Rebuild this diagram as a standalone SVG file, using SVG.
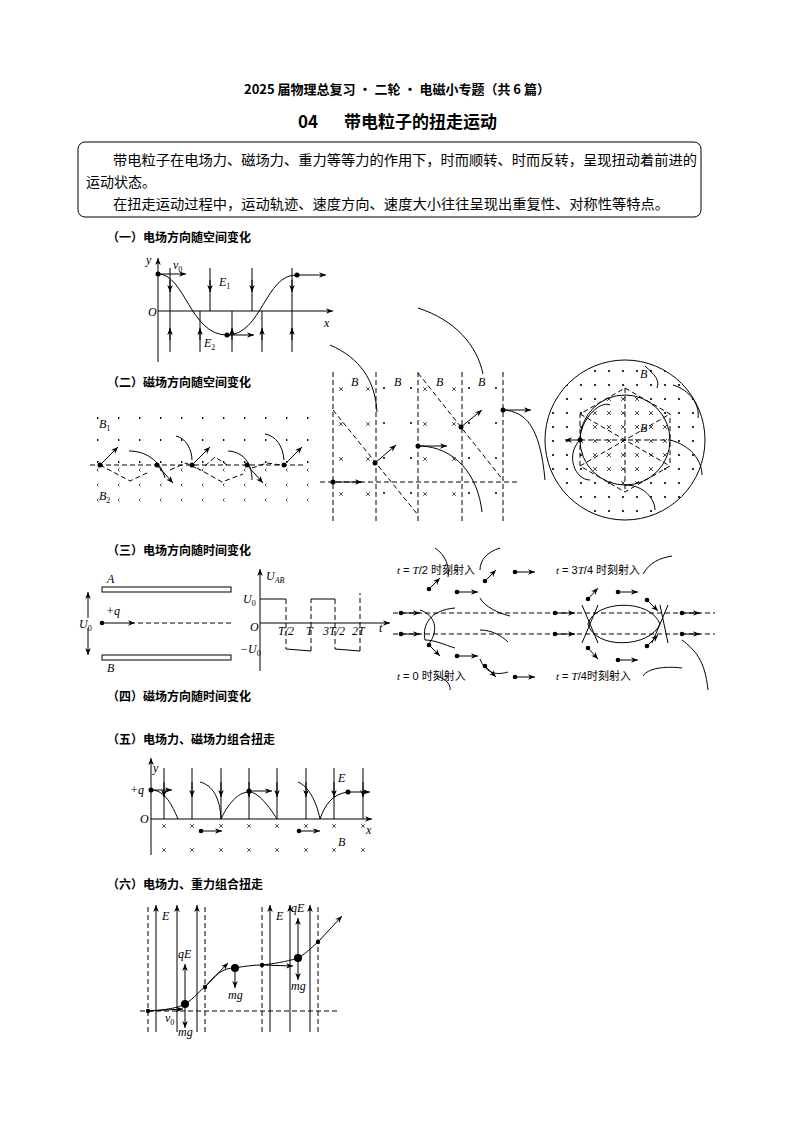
<svg xmlns="http://www.w3.org/2000/svg" xmlns:xlink="http://www.w3.org/1999/xlink" width="794" height="1123" viewBox="0 0 794 1123">
<style>
.t{font-family:"Liberation Sans","Noto Sans CJK SC",sans-serif;fill:#000}
.h{font-family:"Noto Sans CJK SC",sans-serif;font-weight:bold;fill:#000}
.m{font-family:"Liberation Serif",serif;font-style:italic;fill:#000;font-size:12px}
.l{stroke:#000;stroke-width:1;fill:none}
.d{stroke:#000;stroke-width:1;fill:none;stroke-dasharray:5,3}
.a{stroke:#000;stroke-width:1;fill:none;marker-end:url(#ar)}
</style>
<defs>
<marker id="ar" viewBox="0 0 10 10" refX="10" refY="5" markerWidth="7" markerHeight="7" orient="auto"><path d="M0,1 L10,5 L0,9 L3,5 z" fill="#000"/></marker>
<path id="cx" d="M-1.8,-1.8 L1.8,1.8 M1.8,-1.8 L-1.8,1.8" stroke="#000" stroke-width="0.7"/>
<pattern id="dots" width="14" height="14" patternUnits="userSpaceOnUse"><circle cx="7" cy="7" r="1.1" fill="#000"/></pattern>
<pattern id="crs" width="14" height="14" patternUnits="userSpaceOnUse"><path d="M5,5 L9,9 M9,5 L5,9" stroke="#000" stroke-width="0.7"/></pattern>
<pattern id="dots2" width="21" height="22" patternUnits="userSpaceOnUse" x="97" y="407"><circle cx="0.5" cy="11" r="1.1" fill="#000"/></pattern>
<pattern id="crs2" width="21" height="15" patternUnits="userSpaceOnUse" x="97" y="463"><path d="M-1.5,5.5 L1.5,8.5 M1.5,5.5 L-1.5,8.5" stroke="#000" stroke-width="0.7"/></pattern>
<clipPath id="outer"><circle cx="625" cy="440" r="80"/></clipPath>
<clipPath id="inner"><circle cx="625" cy="440" r="45"/></clipPath>
</defs>

<g id="header">
<text class="h" x="397" y="94" font-size="13" text-anchor="middle">2025 届物理总复习 · 二轮 · 电磁小专题（共 6 篇）</text>
<text class="h" x="318" y="128" font-size="17" text-anchor="end">04</text>
<text class="h" x="344" y="128" font-size="17">带电粒子的扭走运动</text>
<rect x="78" y="142" width="623" height="75" rx="7" class="l"/>
<text class="t" font-size="14" x="113" y="165" textLength="584" lengthAdjust="spacingAndGlyphs">带电粒子在电场力、磁场力、重力等等力的作用下，时而顺转、时而反转，呈现扭动着前进的</text>
<text class="t" font-size="14" x="86" y="187">运动状态。</text>
<text class="t" font-size="14" x="113" y="209" textLength="556" lengthAdjust="spacingAndGlyphs">在扭走运动过程中，运动轨迹、速度方向、速度大小往往呈现出重复性、对称性等特点。</text>
</g>

<g id="titles" class="h" font-size="12">
<text x="107" y="242">（一）电场方向随空间变化</text>
<text x="107" y="387">（二）磁场方向随空间变化</text>
<text x="107" y="555">（三）电场方向随时间变化</text>
<text x="107" y="701">（四）磁场方向随时间变化</text>
<text x="107" y="744">（五）电场力、磁场力组合扭走</text>
<text x="107" y="889">（六）电场力、重力组合扭走</text>
</g>

<g id="fig1">
<line x1="158" y1="362" x2="158" y2="258" class="a"/>
<line x1="158" y1="311" x2="333" y2="311" class="a"/>
<g class="l">
<line x1="170" y1="268" x2="170" y2="352"/><line x1="292" y1="268" x2="292" y2="352"/>
<line x1="210" y1="268" x2="210" y2="311"/><line x1="252" y1="268" x2="252" y2="311"/>
<line x1="200" y1="311" x2="200" y2="352"/><line x1="232" y1="311" x2="232" y2="352"/><line x1="262" y1="311" x2="262" y2="352"/>
</g>
<g class="a">
<line x1="170" y1="280" x2="170" y2="292"/><line x1="210" y1="280" x2="210" y2="292"/><line x1="252" y1="280" x2="252" y2="292"/><line x1="292" y1="280" x2="292" y2="292"/>
<line x1="170" y1="340" x2="170" y2="328"/><line x1="200" y1="340" x2="200" y2="328"/><line x1="232" y1="340" x2="232" y2="328"/><line x1="262" y1="340" x2="262" y2="328"/><line x1="292" y1="340" x2="292" y2="328"/>
</g>
<path d="M158,274 C185,274 190,335 227,335 C262,335 265,274 297,275" class="l"/>
<circle cx="158" cy="274" r="2.5"/><circle cx="227" cy="335" r="2.5"/><circle cx="297" cy="275" r="2.5"/>
<line x1="158" y1="274" x2="186" y2="274" class="a"/>
<line x1="227" y1="335" x2="254" y2="335" class="a"/>
<line x1="297" y1="275" x2="326" y2="275" class="a"/>
<text class="m" x="146" y="264">y</text><text class="m" x="173" y="269">v<tspan font-size="8" dy="3" font-style="normal">0</tspan></text>
<text class="m" x="219" y="286">E<tspan font-size="8" dy="3" font-style="normal">1</tspan></text>
<text class="m" x="204" y="347">E<tspan font-size="8" dy="3" font-style="normal">2</tspan></text>
<text class="m" x="148" y="316">O</text><text class="m" x="324" y="327">x</text>
</g>

<g id="fig2a">
<rect x="90" y="407" width="226" height="56" fill="url(#dots2)"/>
<rect x="90" y="463" width="226" height="42" fill="url(#crs2)"/>
<line x1="90" y1="465" x2="305" y2="465" class="d"/>
<path d="M100,465 L130,481 L149,472 M170,470 L186,463 L200,470 M205,466 L215,457 L227,465 M197,468 L222,482 L243,474 M252,468 L267,463 L281,465" class="d" stroke-width="0.8"/>
<path d="M129,451 C145,451 160,460 165,478 M176,436 C186,438 192,450 192,460 M228,451 C245,452 252,465 252,480 M265,434 C276,436 283,446 284,460" class="l"/>
<circle cx="100" cy="465" r="2.5"/><circle cx="157" cy="465" r="2.5"/><circle cx="192" cy="465" r="2.5"/><circle cx="247" cy="465" r="2.5"/><circle cx="284" cy="465" r="2.5"/>
<line x1="100" y1="465" x2="118" y2="447" class="a"/><line x1="157" y1="465" x2="173" y2="483" class="a"/><line x1="192" y1="465" x2="210" y2="447" class="a"/><line x1="247" y1="465" x2="263" y2="483" class="a"/><line x1="284" y1="465" x2="302" y2="447" class="a"/>
<text class="m" x="99" y="428">B<tspan font-size="8" dy="3" font-style="normal">1</tspan></text>
<text class="m" x="99" y="500">B<tspan font-size="8" dy="3" font-style="normal">2</tspan></text>
</g>

<g id="fig2b">
<g class="d"><line x1="333" y1="372" x2="333" y2="522"/><line x1="376" y1="372" x2="376" y2="522"/><line x1="418" y1="372" x2="418" y2="522"/><line x1="462" y1="372" x2="462" y2="522"/><line x1="503" y1="372" x2="503" y2="522"/>
<line x1="320" y1="482" x2="520" y2="482"/><line x1="333" y1="410" x2="418" y2="515"/><line x1="418" y1="373" x2="503" y2="480"/></g>
<use xlink:href="#cx" x="341" y="389"/><use xlink:href="#cx" x="368" y="389"/><use xlink:href="#cx" x="341" y="424"/><use xlink:href="#cx" x="368" y="424"/><use xlink:href="#cx" x="341" y="459"/><use xlink:href="#cx" x="368" y="459"/><use xlink:href="#cx" x="341" y="494"/><use xlink:href="#cx" x="368" y="494"/>
<use xlink:href="#cx" x="425" y="389"/><use xlink:href="#cx" x="454" y="389"/><use xlink:href="#cx" x="425" y="424"/><use xlink:href="#cx" x="454" y="424"/><use xlink:href="#cx" x="425" y="459"/><use xlink:href="#cx" x="454" y="459"/><use xlink:href="#cx" x="425" y="494"/><use xlink:href="#cx" x="454" y="494"/>
<g fill="#000"><circle cx="384" cy="388" r="1"/><circle cx="411" cy="388" r="1"/><circle cx="384" cy="423" r="1"/><circle cx="411" cy="423" r="1"/><circle cx="384" cy="458" r="1"/><circle cx="411" cy="458" r="1"/><circle cx="384" cy="493" r="1"/><circle cx="411" cy="493" r="1"/>
<circle cx="469" cy="388" r="1"/><circle cx="496" cy="388" r="1"/><circle cx="469" cy="423" r="1"/><circle cx="496" cy="423" r="1"/><circle cx="469" cy="458" r="1"/><circle cx="496" cy="458" r="1"/><circle cx="469" cy="493" r="1"/><circle cx="496" cy="493" r="1"/></g>
<path d="M330,345 C360,358 375,380 377,412 M418,308 C455,320 477,345 483,374 M420,446 C455,447 478,475 482,512 M504,410 C525,412 540,425 545,480" class="l"/>
<circle cx="333" cy="482" r="2.5"/><circle cx="375" cy="463" r="2.5"/><circle cx="418" cy="446" r="2.5"/><circle cx="461" cy="427" r="2.5"/><circle cx="503" cy="410" r="2.5"/>
<line x1="333" y1="482" x2="362" y2="482" class="a"/><line x1="375" y1="463" x2="396" y2="445" class="a"/><line x1="418" y1="446" x2="447" y2="446" class="a"/><line x1="461" y1="427" x2="482" y2="410" class="a"/><line x1="503" y1="410" x2="531" y2="410" class="a"/>
<text class="m" x="351" y="386">B</text><text class="m" x="394" y="386">B</text><text class="m" x="436" y="386">B</text><text class="m" x="478" y="386">B</text>
</g>

<g id="fig2c">
<g clip-path="url(#outer)"><rect x="545" y="360" width="160" height="160" fill="url(#dots)"/></g>
<circle cx="625" cy="440" r="45" fill="#fff"/>
<g clip-path="url(#inner)"><rect x="580" y="395" width="90" height="90" fill="url(#crs)"/></g>
<circle cx="625" cy="440" r="80" class="l"/><circle cx="625" cy="440" r="45" class="l"/>
<path d="M625,388 L670,414 L670,466 L625,492 L580,466 L580,414 Z" class="d" stroke-width="0.8"/>
<path d="M580,440 L670,440 M625,388 L625,492 M580,414 L670,466 M580,466 L670,414" class="d" stroke-width="0.8"/>
<path d="M580,440 C565,455 575,480 590,480 M580,440 C580,420 600,400 610,405 M670,440 C690,445 702,460 702,475 M625,485 C645,485 655,500 655,510 M645,366 C655,375 660,380 657,388 M673,385 C690,390 700,405 698,418" class="l"/>
<circle cx="580" cy="440" r="2.5"/>
<line x1="580" y1="440" x2="565" y2="440" class="a"/>
<text class="m" x="640" y="378">B</text><text class="m" x="640" y="432">B</text>
</g>

<g id="fig3">
<rect x="102" y="587" width="129" height="5" class="l"/><rect x="102" y="655" width="129" height="5" class="l"/>
<line x1="88" y1="618" x2="88" y2="592" class="a"/><line x1="88" y1="628" x2="88" y2="655" class="a"/>
<circle cx="102" cy="623" r="2.3"/><line x1="102" y1="623" x2="135" y2="623" class="a"/>
<line x1="138" y1="623" x2="231" y2="623" class="d"/>
<text class="m" x="107" y="583">A</text><text class="m" x="107" y="672">B</text><text class="m" x="106" y="615" font-style="normal">+<tspan font-style="italic">q</tspan></text>
<text class="m" x="79" y="628">U<tspan font-size="8" dy="3" font-style="normal">0</tspan></text>
<line x1="260" y1="671" x2="260" y2="569" class="a"/><line x1="260" y1="623" x2="390" y2="623" class="a"/>
<path d="M260,599 L286,599 M286,649 L311,651 M311,599 L335,599 M335,649 L360,651" class="l"/>
<path d="M286,599 L286,649 M311,651 L311,599 M335,599 L335,649 M360,651 L360,593" class="d"/>
<text class="m" x="266" y="580">U<tspan font-size="8" dy="3">AB</tspan></text>
<text class="m" x="243" y="603">U<tspan font-size="8" dy="3" font-style="normal">0</tspan></text>
<text class="m" x="240" y="653">−U<tspan font-size="8" dy="3" font-style="normal">0</tspan></text>
<text class="m" x="250" y="631">O</text>
<text class="m" x="278" y="635" font-size="11">T/2</text><text class="m" x="306" y="635" font-size="11">T</text><text class="m" x="323" y="635" font-size="11">3T/2</text><text class="m" x="352" y="635" font-size="11">2T</text><text class="m" x="379" y="632">t</text>
</g>

<g id="fig3b">
<line x1="393" y1="613" x2="715" y2="613" class="d"/><line x1="393" y1="634" x2="715" y2="634" class="d"/>
<text class="t" x="397" y="574" font-size="11"><tspan font-family="Liberation Serif" font-style="italic">t</tspan> = <tspan font-family="Liberation Serif" font-style="italic">T</tspan>/2 时刻射入</text>
<text class="t" x="556" y="574" font-size="11"><tspan font-family="Liberation Serif" font-style="italic">t</tspan> = 3<tspan font-family="Liberation Serif" font-style="italic">T</tspan>/4 时刻射入</text>
<text class="t" x="397" y="680" font-size="11"><tspan font-family="Liberation Serif" font-style="italic">t</tspan> = 0 时刻射入</text>
<text class="t" x="556" y="680" font-size="11"><tspan font-family="Liberation Serif" font-style="italic">t</tspan> = <tspan font-family="Liberation Serif" font-style="italic">T</tspan>/4时刻射入</text>
<g fill="#000"><circle cx="401" cy="613" r="2.3"/><circle cx="401" cy="634" r="2.3"/><circle cx="429" cy="589" r="2.3"/><circle cx="457" cy="592" r="2.3"/><circle cx="485" cy="581" r="2.3"/><circle cx="515" cy="572" r="2.3"/>
<circle cx="429" cy="645" r="2.3"/><circle cx="457" cy="656" r="2.3"/><circle cx="485" cy="666" r="2.3"/><circle cx="515" cy="677" r="2.3"/>
<circle cx="555" cy="613" r="2.3"/><circle cx="555" cy="634" r="2.3"/><circle cx="588" cy="599" r="2.3"/><circle cx="618" cy="592" r="2.3"/><circle cx="647" cy="600" r="2.3"/><circle cx="682" cy="613" r="2.3"/><circle cx="682" cy="634" r="2.3"/>
<circle cx="588" cy="648" r="2.3"/><circle cx="618" cy="660" r="2.3"/><circle cx="647" cy="646" r="2.3"/></g>
<g class="a"><line x1="401" y1="613" x2="420" y2="613"/><line x1="401" y1="634" x2="420" y2="634"/><line x1="429" y1="589" x2="440" y2="578"/><line x1="457" y1="592" x2="478" y2="592"/><line x1="485" y1="581" x2="496" y2="570"/><line x1="515" y1="572" x2="535" y2="572"/>
<line x1="429" y1="645" x2="440" y2="656"/><line x1="457" y1="656" x2="478" y2="656"/><line x1="485" y1="666" x2="496" y2="677"/><line x1="515" y1="677" x2="535" y2="677"/>
<line x1="555" y1="613" x2="575" y2="613"/><line x1="555" y1="634" x2="575" y2="634"/><line x1="588" y1="599" x2="598" y2="588"/><line x1="618" y1="592" x2="638" y2="592"/><line x1="647" y1="600" x2="658" y2="611"/><line x1="682" y1="613" x2="700" y2="613"/><line x1="682" y1="634" x2="700" y2="634"/>
<line x1="588" y1="648" x2="598" y2="659"/><line x1="618" y1="660" x2="638" y2="660"/><line x1="647" y1="646" x2="658" y2="635"/></g>
<path d="M455,608 C430,610 422,625 425,640 C435,640 445,645 455,648 M420,610 C435,615 440,630 428,645 M435,548 C446,555 450,568 448,577 M480,570 C480,560 487,552 500,548 M480,598 C485,607 498,613 510,616 M480,630 C492,630 502,636 508,642 M480,659 C485,672 495,676 508,672 M437,676 C448,680 451,686 450,690" class="l"/>
<path d="M588,624 C595,600 650,598 660,624 C650,648 595,650 588,624 Z M582,605 L598,643 M598,605 L582,643 M660,605 L668,643 M668,605 L652,643" class="l"/>
<path d="M643,574 C650,562 660,558 672,556 M643,676 C648,668 665,666 682,668 M682,640 C695,650 705,660 708,690" class="l"/>
</g>

<g id="fig5">
<line x1="151" y1="855" x2="151" y2="758" class="a"/><line x1="151" y1="819" x2="372" y2="819" class="a"/>
<g class="l"><line x1="164" y1="768" x2="164" y2="819"/><line x1="192" y1="768" x2="192" y2="819"/><line x1="221" y1="768" x2="221" y2="819"/><line x1="249" y1="768" x2="249" y2="819"/><line x1="277" y1="768" x2="277" y2="819"/><line x1="306" y1="768" x2="306" y2="819"/><line x1="334" y1="768" x2="334" y2="819"/><line x1="363" y1="768" x2="363" y2="819"/></g>
<g class="a"><line x1="164" y1="782" x2="164" y2="797"/><line x1="192" y1="782" x2="192" y2="797"/><line x1="221" y1="782" x2="221" y2="797"/><line x1="249" y1="782" x2="249" y2="797"/><line x1="277" y1="782" x2="277" y2="797"/><line x1="306" y1="782" x2="306" y2="797"/><line x1="334" y1="782" x2="334" y2="797"/><line x1="363" y1="782" x2="363" y2="797"/></g>
<use xlink:href="#cx" x="164" y="826"/><use xlink:href="#cx" x="192" y="826"/><use xlink:href="#cx" x="221" y="826"/><use xlink:href="#cx" x="249" y="826"/><use xlink:href="#cx" x="277" y="826"/><use xlink:href="#cx" x="306" y="826"/><use xlink:href="#cx" x="334" y="826"/><use xlink:href="#cx" x="363" y="826"/>
<use xlink:href="#cx" x="164" y="850"/><use xlink:href="#cx" x="192" y="850"/><use xlink:href="#cx" x="221" y="850"/><use xlink:href="#cx" x="249" y="850"/><use xlink:href="#cx" x="277" y="850"/><use xlink:href="#cx" x="306" y="850"/><use xlink:href="#cx" x="334" y="850"/><use xlink:href="#cx" x="363" y="850"/>
<path d="M151,790 C165,790 172,805 178,819 M221,819 C230,800 240,792 249,792 C258,792 268,805 277,819 M320,819 C325,805 332,794 348,792 M200,782 C212,785 220,797 221,819 M298,782 C308,786 316,800 320,819" class="l"/>
<circle cx="151" cy="790" r="2.5"/><circle cx="249" cy="791" r="2.5"/><circle cx="348" cy="792" r="2.5"/><circle cx="201" cy="831" r="2.3"/><circle cx="299" cy="831" r="2.3"/>
<line x1="151" y1="790" x2="172" y2="790" class="a"/><line x1="249" y1="791" x2="272" y2="791" class="a"/><line x1="348" y1="792" x2="370" y2="792" class="a"/><line x1="201" y1="831" x2="222" y2="831" class="a"/><line x1="299" y1="831" x2="320" y2="831" class="a"/>
<text class="m" x="153" y="772">y</text><text class="m" x="130" y="794" font-style="normal">+<tspan font-style="italic">q</tspan></text><text class="m" x="140" y="823">O</text><text class="m" x="366" y="834">x</text>
<text class="m" x="338" y="782">E</text><text class="m" x="338" y="846">B</text>
</g>

<g id="fig6">
<g class="d"><line x1="148" y1="907" x2="148" y2="1032"/><line x1="205" y1="907" x2="205" y2="1032"/><line x1="262" y1="907" x2="262" y2="1032"/><line x1="318" y1="907" x2="318" y2="1032"/><line x1="140" y1="1011" x2="340" y2="1011"/></g>
<g class="a"><line x1="156" y1="1032" x2="156" y2="905"/><line x1="177" y1="1032" x2="177" y2="905"/><line x1="197" y1="1032" x2="197" y2="905"/><line x1="270" y1="1032" x2="270" y2="905"/><line x1="290" y1="1032" x2="290" y2="905"/><line x1="310" y1="1032" x2="310" y2="905"/></g>
<path d="M148,1011 C165,1010 178,1008 185,1004 C195,998 200,990 205,987 C215,975 222,968 235,968 C245,966 255,965 262,965 C280,963 292,960 298,958 C308,952 313,946 318,942" class="l"/>
<line x1="318" y1="942" x2="342" y2="916" class="a"/>
<line x1="205" y1="987" x2="228" y2="963" class="a"/>
<line x1="262" y1="965" x2="293" y2="966" class="a"/>
<line x1="148" y1="1011" x2="183" y2="1009" class="a"/>
<circle cx="148" cy="1011" r="2.2"/><circle cx="205" cy="987" r="2.2"/><circle cx="262" cy="965" r="2.2"/><circle cx="318" cy="942" r="2.2"/>
<circle cx="185" cy="1004" r="4"/><circle cx="235" cy="968" r="4"/><circle cx="298" cy="958" r="4"/>
<line x1="185" y1="1004" x2="185" y2="964" class="a"/><line x1="185" y1="1004" x2="185" y2="1028" class="a"/>
<line x1="235" y1="968" x2="235" y2="988" class="a"/>
<line x1="298" y1="958" x2="298" y2="918" class="a"/><line x1="298" y1="958" x2="298" y2="980" class="a"/>
<text class="m" x="162" y="920">E</text><text class="m" x="276" y="920">E</text>
<text class="m" x="178" y="958">qE</text><text class="m" x="291" y="912">qE</text>
<text class="m" x="178" y="1036">mg</text><text class="m" x="228" y="999">mg</text><text class="m" x="291" y="990">mg</text>
<text class="m" x="165" y="1022">v<tspan font-size="8" dy="3" font-style="normal">0</tspan></text>
</g>
</svg>
